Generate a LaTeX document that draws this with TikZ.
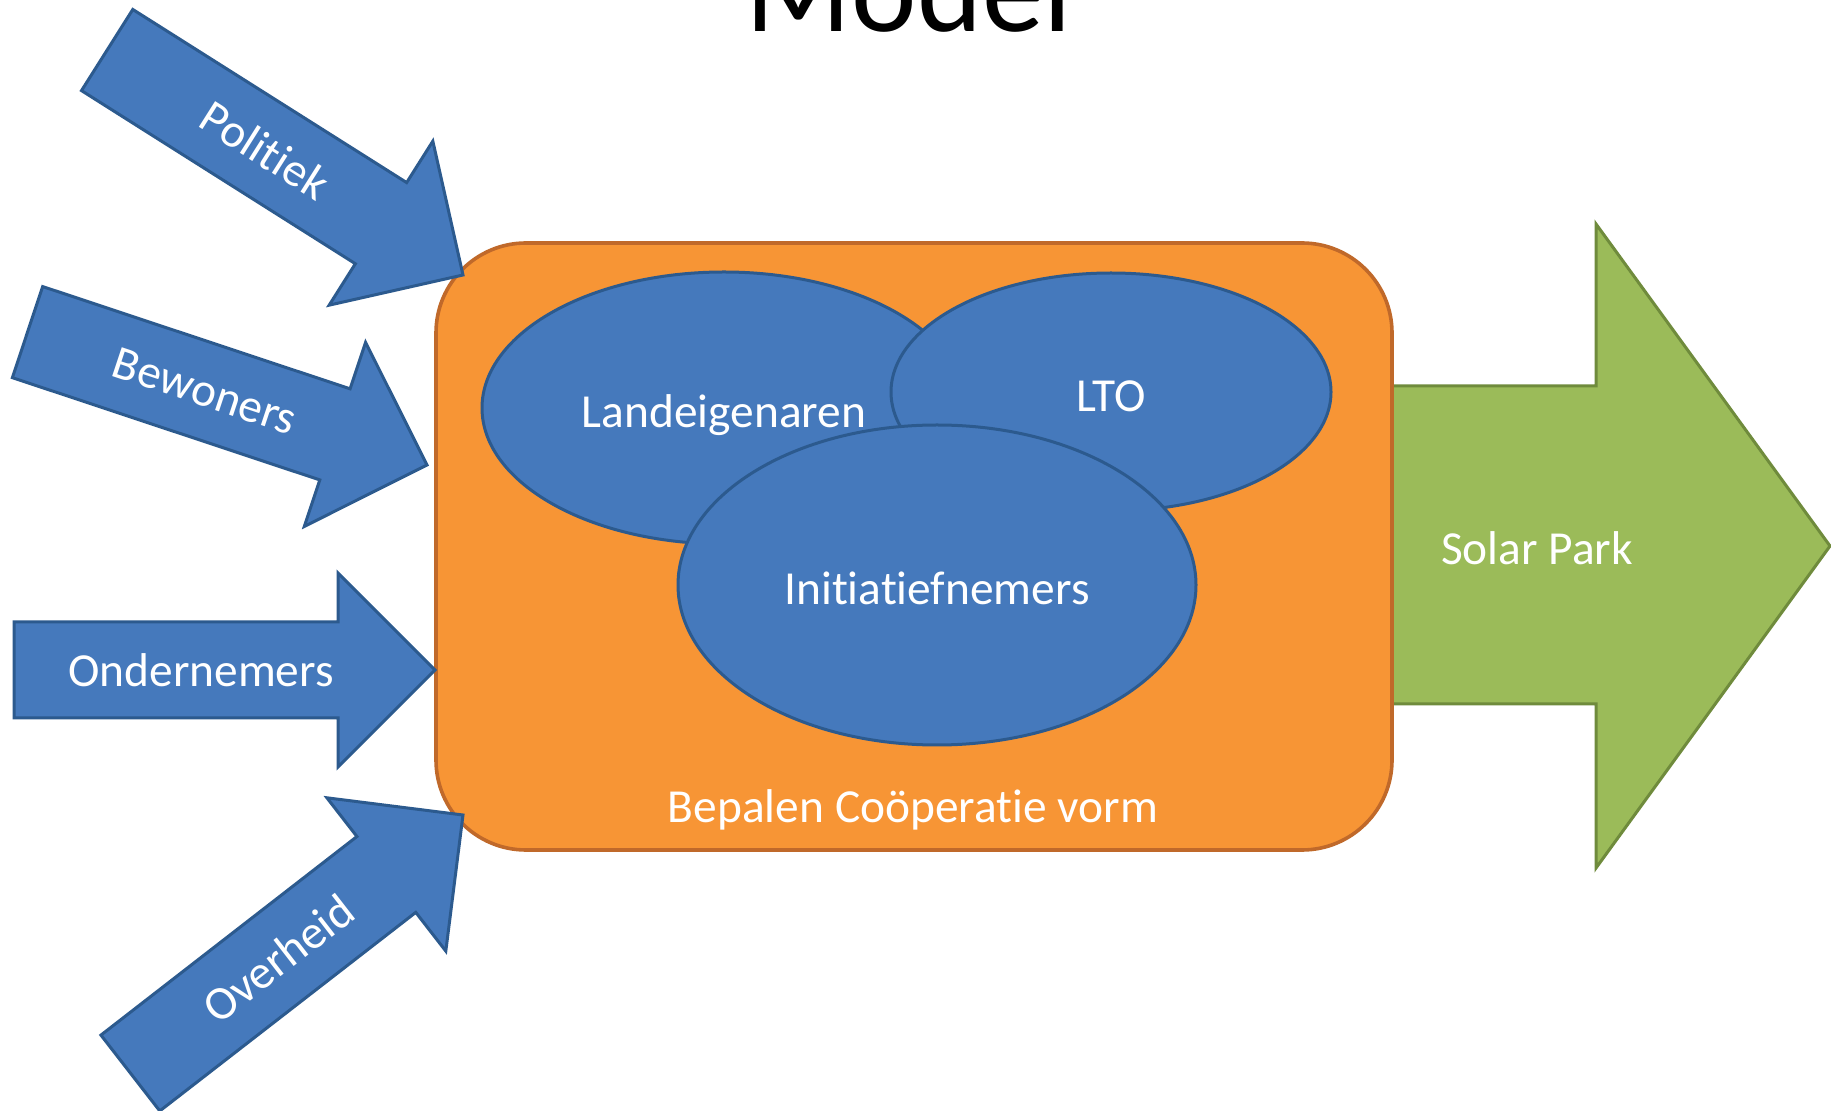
\documentclass[tikz,border=0pt]{standalone}
\usepackage{fontspec}
\setmainfont[Ligatures=NoCommon]{Carlito}
\usetikzlibrary{shapes.geometric}
\definecolor{bluefill}{HTML}{4579BC}
\definecolor{blueline}{HTML}{2C5A8E}
\definecolor{orangefill}{HTML}{F79535}
\definecolor{orangeline}{HTML}{C0692A}
\definecolor{greenfill}{HTML}{9BBB59}
\definecolor{greenline}{HTML}{6F8B3C}
\begin{document}
\begin{tikzpicture}[x=0.5pt,y=-0.5pt,
  lbl/.style={text=white,font=\fontsize{23.7pt}{28pt}\selectfont,inner sep=0pt},
  barrow/.style={fill=bluefill,draw=blueline,line width=1.5pt,line join=miter},
  blob/.style={ellipse,fill=bluefill,draw=blueline,line width=1.5pt,inner sep=0pt,
    text=white,font=\fontsize{23.7pt}{28pt}\selectfont,text height=20pt,text depth=0pt}]
\useasboundingbox (0,0) rectangle (1831,1111);
\clip (0,0) rectangle (1831,1111);
\fill[white] (0,0) rectangle (1831,1111);

% title (cropped at top)
\node[anchor=base,font=\fontsize{62pt}{70pt}\selectfont,inner sep=0pt] (title) at (909,32) {Model};

% green output arrow
\draw[fill=greenfill,draw=greenline,line width=1.5pt,line join=miter]
  (1300,386) -- (1596,386) -- (1596,224) -- (1830,546) -- (1596,868) -- (1596,704) -- (1300,704) -- cycle;
\node[lbl] (solar) at (1537,548) {Solar Park};

% orange box
\node[draw=orangeline,fill=orangefill,line width=1.8pt,rounded corners=45pt,
  minimum width=478pt,minimum height=303.5pt,inner sep=0pt] (box) at (914,546.5) {};
\node[lbl,anchor=base] (bepalen) at (913,822) {Bepalen Coöperatie vorm};

% ellipses
\node[blob,minimum width=242pt,minimum height=136pt] (land) at (724,408) {Landeigenaren};
\node[blob,minimum width=220pt,minimum height=119pt] (lto) at (1111,392) {LTO};
\node[blob,minimum width=259pt,minimum height=160pt] (init) at (937,585) {Initiatiefnemers};

% input arrows
\begin{scope}[shift={(463,275)},rotate=-32.3]
  \draw[barrow] (-421,-48) -- (-97,-48) -- (-97,-97) -- (0,0) -- (-97,97) -- (-97,48) -- (-421,48) -- cycle;
  \node[lbl,rotate=-32.3] (politiek) at (-234,0) {Politiek};
\end{scope}
\begin{scope}[shift={(427,465)},rotate=-18.4]
  \draw[barrow] (-421,-48) -- (-97,-48) -- (-97,-97) -- (0,0) -- (-97,97) -- (-97,48) -- (-421,48) -- cycle;
  \node[lbl,rotate=-18.4] (bewoners) at (-234,0) {Bewoners};
\end{scope}
\begin{scope}[shift={(435,670)}]
  \draw[barrow] (-421,-48) -- (-97,-48) -- (-97,-97) -- (0,0) -- (-97,97) -- (-97,48) -- (-421,48) -- cycle;
  \node[lbl] (ondernemers) at (-234,0) {Ondernemers};
\end{scope}
\begin{scope}[shift={(463,815)},rotate=37.8]
  \draw[barrow] (-421,-48) -- (-97,-48) -- (-97,-97) -- (0,0) -- (-97,97) -- (-97,48) -- (-421,48) -- cycle;
  \node[lbl,rotate=37.8] (overheid) at (-234,0) {Overheid};
\end{scope}
\end{tikzpicture}
\end{document}
